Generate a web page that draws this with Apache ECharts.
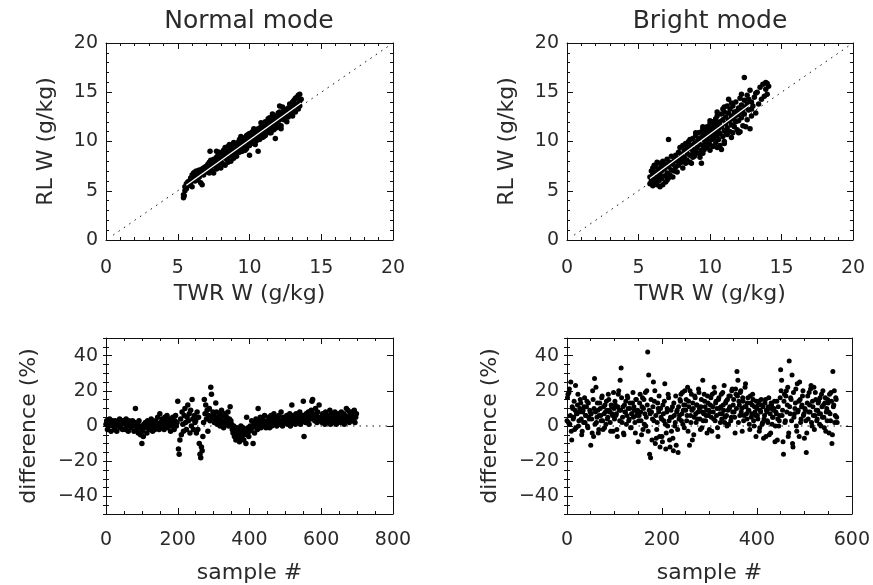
<!DOCTYPE html>
<html>
<head>
<meta charset="utf-8">
<script src="https://cdn.jsdelivr.net/npm/echarts@6/dist/echarts.min.js"></script>
<style>html,body{margin:0;padding:0;background:#fff}#c{width:873px;height:585px}</style>
</head>
<body>
<div id="c"></div>
<script>
// ---- tick labels ----
const scatterTicks = [0, 5, 10, 15, 20];
const diffTicks = [-40, -20, 0, 20, 40];
const sampleTicksNormal = [0, 200, 400, 600, 800];
const sampleTicksBright = [0, 200, 400, 600];
const panelTitles = ['Normal mode', 'Bright mode'];

// ---- reference lines ----
const oneToOne = [[0.5, 0.5], [20, 20]];
const normalFit = [[5.6, 5.55], [13.6, 13.9]];
const brightFit = [[5.8, 6.25], [12.8, 13.75]];
const normalZero = [[0, 0], [800, 0]];
const brightZero = [[0, 0], [600, 0]];

// ---- Normal mode: TWR W vs RL W (g/kg) ----
const normalScatter = [
[5.4,4.3],[5.4,4.6],[5.45,4.5],[5.5,5.0],[5.5,5.4],[5.6,5.7],[5.6,5.2],[5.7,5.9],[5.7,5.5],[5.8,6.0],[5.8,5.6],[5.9,6.3],[5.9,5.8],[6.0,6.1],[6.0,5.4],[6.0,6.6],
[6.1,6.8],[6.1,6.3],[6.2,6.9],[6.2,6.0],[6.3,6.5],[6.3,7.0],[6.4,6.1],[6.4,6.8],[6.5,7.1],[6.5,6.4],[6.6,5.8],[6.6,6.9],[6.7,5.6],[6.7,7.2],[6.8,6.6],[6.8,7.3],[6.9,7.0],[6.9,7.4],[7.0,6.9],[7.0,7.5],
[7.1,7.2],[7.1,7.7],[7.2,6.8],[7.2,7.9],[7.25,9.0],[7.3,7.4],[7.3,8.1],[7.4,7.0],[7.4,7.8],[7.5,6.8],[7.5,8.2],[7.6,7.5],[7.6,8.0],[7.7,9.0],[7.7,7.2],[7.7,8.4],[7.8,7.6],[7.8,8.6],[7.9,7.9],[7.9,8.3],[8.0,7.3],[8.0,8.7],[8.0,8.1],
[8.1,8.9],[8.1,7.8],[8.2,8.4],[8.2,9.1],[8.3,7.6],[8.3,8.7],[8.4,9.3],[8.4,8.2],[8.5,8.9],[8.5,7.9],[8.5,9.5],[8.6,8.5],[8.6,9.2],[8.7,8.0],[8.7,9.0],[8.8,9.6],[8.8,8.6],[8.9,9.3],[8.9,8.3],[9.0,9.8],[9.0,8.8],[9.0,9.4],
[9.1,9.1],[9.1,8.5],[9.2,9.9],[9.2,9.5],[9.3,8.9],[9.3,10.2],[9.4,9.3],[9.4,9.8],[9.5,9.0],[9.5,10.3],[9.5,9.6],[9.6,10.0],[9.6,9.2],[9.7,10.4],[9.7,9.7],[9.8,10.1],[9.8,9.3],[9.8,10.6],[9.9,9.9],[9.9,10.7],[10.0,9.6],[10.0,10.3],[10.0,8.6],[10.0,10.8],
[10.1,9.9],[10.1,10.6],[10.2,10.2],[10.2,11.0],[10.3,9.8],[10.3,10.7],[10.4,10.4],[10.4,11.2],[10.5,10.1],[10.5,10.9],[10.6,9.0],[10.6,11.3],[10.6,10.5],[10.7,11.0],[10.7,10.2],[10.8,11.5],[10.8,10.8],[10.9,10.4],[10.9,11.2],[11.0,11.7],[11.0,10.9],[11.0,10.5],
[11.1,11.4],[11.1,12.0],[11.2,11.0],[11.2,11.8],[11.3,11.3],[11.3,12.3],[11.4,11.6],[11.4,10.9],[11.5,12.1],[11.5,11.4],[11.6,12.5],[11.6,11.8],[11.7,11.2],[11.7,12.2],[11.8,11.7],[11.8,12.6],[11.8,10.3],[11.9,12.0],[11.9,11.4],[12.0,12.4],[12.0,12.9],[12.0,11.8],
[12.1,12.2],[12.1,13.0],[12.1,13.6],[12.2,11.6],[12.2,12.6],[12.3,12.9],[12.4,12.2],[12.4,13.3],[12.5,12.6],[12.6,12.0],[12.6,13.0],[12.7,13.4],[12.7,12.5],[12.8,13.1],[12.8,13.8],[12.9,12.8],[12.9,13.5],[13.0,13.2],[13.0,14.0],[13.0,12.6],
[13.1,13.6],[13.1,14.2],[13.2,13.0],[13.2,14.4],[13.3,13.8],[13.3,14.5],[13.4,13.3],[13.4,14.7],[13.5,14.1],[13.5,13.6],[13.5,14.8],[13.6,14.3],
[8.3,9.4],[8.9,9.9],[9.4,10.5],[9.9,10.3],[10.3,11.3],[10.8,11.9],[11.3,11.9],[11.6,12.8],[12.3,13.5],[9.2,8.9],[9.7,9.1],[10.4,9.7],[11.1,10.6],[11.5,10.9],[12.2,11.3],[7.9,8.9],[8.6,9.7],[9.3,9.6],[10.1,10.0],[10.7,10.8],[11.4,12.4],[12.5,13.1],[13.2,13.6]
];

// ---- Bright mode: TWR W vs RL W (g/kg) ----
const brightScatter = [
[5.8,5.7],[5.8,6.4],[5.9,7.0],[5.9,6.0],[6.0,7.3],[6.0,5.5],[6.0,6.7],[6.1,6.2],[6.1,7.6],[6.2,5.8],[6.2,6.9],[6.3,7.9],[6.3,6.4],[6.3,5.6],[6.4,7.2],[6.4,6.0],[6.5,5.4],[6.5,7.8],[6.5,6.6],
[6.6,7.0],[6.6,6.2],[6.7,5.6],[6.7,7.5],[6.7,8.0],[6.8,6.5],[6.8,7.2],[6.9,5.9],[6.9,7.7],[7.0,6.8],[7.0,8.2],[7.0,6.1],[7.1,7.4],[7.1,10.2],[7.2,6.6],[7.2,7.9],[7.3,7.1],[7.3,8.5],[7.4,6.4],[7.4,7.7],[7.5,8.1],[7.5,7.0],
[7.6,8.6],[7.6,7.4],[7.7,8.0],[7.7,6.9],[7.8,8.9],[7.8,7.6],[7.9,8.3],[7.9,9.4],[8.0,7.9],[8.0,8.7],[8.1,9.6],[8.1,7.3],[8.2,8.4],[8.2,9.1],[8.3,7.8],[8.3,9.8],[8.4,8.8],[8.4,8.1],[8.5,9.3],[8.5,10.0],
[8.6,8.6],[8.6,7.9],[8.7,9.6],[8.7,7.8],[8.8,9.0],[8.8,10.3],[8.9,8.5],[8.9,9.8],[9.0,9.2],[9.0,10.6],[9.0,8.8],[9.1,10.0],[9.1,9.4],[9.2,8.8],[9.2,10.9],[9.3,9.7],[9.3,10.3],[9.4,7.8],[9.4,9.1],[9.4,11.0],[9.5,10.5],[9.5,9.6],
[9.6,10.1],[9.6,11.3],[9.6,9.2],[9.7,10.7],[9.7,9.8],[9.8,11.5],[9.8,10.3],[9.8,9.4],[9.9,10.9],[9.9,10.0],[10.0,11.8],[10.0,9.7],[10.0,10.5],[10.1,11.2],[10.1,10.2],[10.2,9.5],[10.2,12.0],[10.2,10.8],[10.3,11.5],[10.3,10.4],[10.4,12.3],[10.4,9.9],[10.4,11.0],[10.5,10.6],[10.5,11.7],[10.5,12.6],
[10.6,10.2],[10.6,11.3],[10.7,12.0],[10.7,10.8],[10.8,9.2],[10.8,11.5],[10.8,12.8],[10.9,10.5],[10.9,12.2],[11.0,11.1],[11.0,13.0],[11.0,10.0],[11.1,11.8],[11.1,12.5],[11.2,10.7],[11.2,11.4],[11.3,12.9],[11.3,14.3],[11.3,12.1],[11.4,11.0],[11.4,13.3],[11.5,11.7],[11.5,12.6],
[11.6,10.9],[11.6,13.6],[11.6,12.3],[11.7,11.5],[11.7,13.0],[11.8,12.0],[11.8,14.0],[11.9,11.2],[11.9,12.7],[12.0,13.4],[12.0,12.1],[12.1,11.0],[12.1,14.4],[12.1,12.9],[12.2,13.7],[12.2,12.4],[12.3,11.6],[12.3,13.2],[12.4,16.5],[12.4,14.2],[12.4,12.8],[12.5,13.5],
[12.6,12.2],[12.6,14.7],[12.7,13.2],[12.8,15.2],[12.8,11.3],[12.9,14.0],[12.9,12.6],[13.0,13.6],[13.1,14.5],[13.2,12.9],[13.3,15.0],[13.4,13.8],[13.5,15.5],[13.6,14.3],[13.7,15.8],[13.8,14.6],[13.9,16.0],[13.9,15.3],[14.0,14.8],[14.0,15.9],[14.1,15.6],
[9.2,10.2],[9.7,11.0],[10.1,10.9],[10.6,11.9],[11.1,11.0],[11.4,12.2],[11.9,13.1],[10.3,11.9],[9.9,11.4],[9.4,10.4],[8.9,9.2],[8.4,9.5],[12.6,13.8],[12.2,14.8],[11.2,13.6],[10.9,13.3],[10.2,11.4],[9.5,11.5],
[6.2,7.4],[6.6,7.6],[7.1,6.3],[7.6,8.3],[8.1,8.2],[8.8,8.4],[9.3,8.4],[10.7,9.6],[11.7,12.5],[12.9,13.3],
[9.5,11.3],[10.0,12.1],[10.5,13.0],[11.0,13.5],[11.5,13.9],[9.5,8.8],[10.0,9.1],[10.5,9.4],[11.0,9.8],[11.5,10.4],[12.0,10.9],[12.5,11.5],[9.0,10.9],[8.6,10.2],[13.2,14.9],[12.7,14.3]
];

// ---- difference (%) per sample, every 2nd sample ----
const sampleStep = 2;
const normalDiff = [
1,3,-2,2,0,4,1,-3,2,3,0,1,-2,3,2,-3,1,0,2,4,-1,1,3,-2,2,
3,1,-2,4,2,0,-3,3,1,2,-1,0,3,1,-3,2,10,0,-2,1,-4,3,-1,-5,0,
-10,-3,-6,1,-1,2,0,-4,3,1,-2,2,-1,4,0,-3,1,2,-2,3,0,-1,5,1,-2,
7,2,-1,4,1,3,-2,5,0,2,6,-1,3,1,4,-3,2,0,5,1,-2,3,6,0,2,
14,-13,-16,-8,4,-5,8,1,-3,6,10,2,-2,5,12,3,7,-4,9,0,15,4,-2,6,2,
3,-4,8,-2,5,-10,-16,-18,-12,-14,-6,2,15,7,12,4,9,-3,6,10,3,22,18,5,8,
6,2,4,13,8,1,5,3,7,0,4,9,2,6,-1,3,7,1,5,2,8,0,4,11,3,
1,-2,-4,0,-6,-3,-8,-1,-5,-2,-7,-9,-4,0,-6,-3,-1,-8,-5,-2,-10,5,-4,-1,-6,
-3,0,-2,3,-1,-10,1,-4,2,4,0,-2,10,3,1,5,-1,2,4,0,3,6,1,-1,2,
3,1,5,-1,2,6,0,4,2,7,1,3,5,0,4,2,6,1,3,8,2,0,5,3,4,
4,2,6,1,5,3,7,0,4,12,2,6,3,5,1,7,4,2,6,3,8,1,5,3,6,
14,-6,4,2,7,5,3,8,1,6,4,9,14,15,7,5,3,10,6,2,8,4,12,5,3,
5,2,7,3,6,1,8,4,2,6,5,3,9,1,7,4,6,2,5,8,3,1,6,4,7,
3,6,2,8,5,4,7,1,6,3,10,5,9,4,2,7,5,8,3,6,4,9,2,5,7
];
// bright mode: even samples (0,2,4,...) and odd samples (1,3,5,...)
const brightDiff = [
3,18,19,1,25,-8,10,5,-2,23,7,12,0,8,15,4,-3,9,11,2,6,14,-1,5,9,
-11,4,20,-6,27,8,2,13,-4,6,10,3,17,-2,7,12,1,9,5,15,8,-3,11,6,19,
4,12,7,-6,18,9,26,33,2,11,-5,8,14,6,16,3,10,-1,7,13,5,9,-4,15,8,
-9,6,18,3,11,-2,15,7,0,20,42,29,-16,-18,8,4,25,14,-10,-7,2,10,17,-12,5,
-6,12,3,24,-13,8,0,16,-8,5,-3,11,-14,6,2,-11,9,-15,4,15,18,7,1,12,20,
9,3,22,14,-11,6,18,-8,10,5,16,2,12,8,19,4,11,-1,26,7,14,3,9,17,6,
-2,12,5,18,8,22,3,14,10,-6,16,7,11,4,19,9,2,13,6,15,1,10,17,5,21,
12,8,-4,18,31,26,14,6,20,10,16,3,11,24,7,13,9,1,17,5,12,15,0,8,-6,
10,4,14,-1,8,12,2,-7,6,15,9,3,11,-5,7,13,1,5,10,-9,8,14,4,0,6,
32,26,9,-16,18,3,20,12,-6,37,7,15,29,-12,5,10,21,-3,8,14,25,2,11,17,6,
-7,9,-15,13,4,19,8,23,0,11,22,6,15,3,9,14,1,7,18,5,12,-1,16,8,3,
13,-4,7,19,-10,31,12,2,16,5
];
const brightDiffOdd = [
16,2,21,6,-3,11,4,14,9,-1,7,18,3,10,13,-5,8,2,16,6,11,0,13,4,8,
7,-4,15,10,1,22,5,9,-2,13,6,16,3,11,-1,8,14,4,18,9,2,12,7,-3,10,
14,6,-2,11,20,3,9,16,5,-4,12,8,1,17,10,4,13,-1,7,19,11,2,15,6,9,
3,13,8,-5,16,10,1,19,5,12,-3,9,7,15,-8,11,3,20,6,-2,13,8,-6,10,4,
-9,7,14,1,-4,10,18,3,-12,9,5,-7,13,0,17,8,-2,11,6,14,3,19,9,-1,12,
15,6,-3,11,20,2,9,13,-5,17,7,12,4,21,10,-2,15,8,3,18,11,6,-4,13,9,
8,16,-3,11,4,19,13,6,-1,15,10,2,18,7,12,23,5,14,0,9,17,11,3,20,8,
15,5,21,10,17,2,12,19,8,-3,14,6,22,11,4,16,9,-2,13,7,18,3,11,6,14,
6,12,-3,9,15,1,11,4,13,-6,8,2,16,10,-4,12,5,9,14,0,7,-8,11,3,16,
20,6,-9,14,2,17,8,22,-4,11,16,3,-10,19,7,13,0,24,9,-6,15,4,12,20,7,
10,3,-4,17,8,12,21,2,14,6,-2,19,9,4,13,7,16,0,11,20,5,13,-3,10,15,
8,18,3,14,-5,11,20,6,15,2
];

// ---- chart ----
const FONT = 'DejaVu Sans';
const TXT = '#2a2a2a';
const fmtNum = v => (v < 0 ? '\u2212' + Math.abs(v) : String(v));

const grids = [
  {left: 106, top: 43, width: 287, height: 197},
  {left: 567, top: 43, width: 286, height: 197},
  {left: 106, top: 338, width: 287, height: 179},
  {left: 567, top: 338, width: 286, height: 180}
];

const xAxes = [], yAxes = [];
function baseAxis(extra) {
  return Object.assign({
    type: 'value',
    splitLine: {show: false},
    axisLine: {show: true, onZero: false, lineStyle: {color: '#111', width: 1}},
    axisTick: {show: true, inside: true, length: 6, lineStyle: {color: '#111', width: 1}},
    axisLabel: {show: false},
    nameTextStyle: {fontFamily: FONT, fontSize: 22, color: TXT}
  }, extra);
}
function addX(gi, min, max, interval, minorSplit, name, nameGap, labelMargin) {
  const idx = xAxes.length;
  const common = {gridIndex: gi, min: min, max: max, interval: interval,
    minorTick: {show: true, splitNumber: minorSplit, length: 3, lineStyle: {color: '#111'}}};
  xAxes.push(baseAxis(Object.assign({}, common, {
    position: 'bottom', name: name, nameLocation: 'middle', nameGap: nameGap,
    axisLabel: {show: true, fontFamily: FONT, fontSize: 19, color: TXT, margin: labelMargin, formatter: fmtNum, showMinLabel: true, showMaxLabel: true}
  })));
  xAxes.push(baseAxis(Object.assign({}, common, {position: 'top'})));
  return idx;
}
function addYScatter(gi, name) {
  const idx = yAxes.length;
  const common = {gridIndex: gi, min: 0, max: 20, interval: 5,
    minorTick: {show: true, splitNumber: 5, length: 3, lineStyle: {color: '#111'}}};
  yAxes.push(baseAxis(Object.assign({}, common, {
    position: 'left', name: name, nameLocation: 'middle', nameRotate: 90, nameGap: 49,
    axisLabel: {show: true, fontFamily: FONT, fontSize: 19, color: TXT, margin: 8, formatter: fmtNum, showMinLabel: true, showMaxLabel: true}
  })));
  yAxes.push(baseAxis(Object.assign({}, common, {position: 'right'})));
  return idx;
}
function addYDiff(gi, name) {
  const idx = yAxes.length;
  const common = {gridIndex: gi, min: -50, max: 50};
  yAxes.push(baseAxis(Object.assign({}, common, {
    position: 'left', name: name, nameLocation: 'middle', nameRotate: 90, nameGap: 66,
    axisTick: {show: true, inside: true, length: 6, customValues: diffTicks, lineStyle: {color: '#111'}},
    axisLabel: {show: true, fontFamily: FONT, fontSize: 19, color: TXT, margin: 8, customValues: diffTicks, formatter: fmtNum}
  })));
  yAxes.push(baseAxis(Object.assign({}, common, {
    position: 'right',
    axisTick: {show: true, inside: true, length: 6, customValues: diffTicks, lineStyle: {color: '#111'}}
  })));
  // minor ticks every 5 %
  yAxes.push(baseAxis(Object.assign({}, common, {
    position: 'left', interval: 5, axisLine: {show: false},
    axisTick: {show: true, inside: true, length: 3, lineStyle: {color: '#111'}}
  })));
  yAxes.push(baseAxis(Object.assign({}, common, {
    position: 'right', interval: 5, axisLine: {show: false},
    axisTick: {show: true, inside: true, length: 3, lineStyle: {color: '#111'}}
  })));
  return idx;
}

const x0 = addX(0, scatterTicks[0], scatterTicks[scatterTicks.length - 1], scatterTicks[1] - scatterTicks[0], 5, 'TWR W (g/kg)', 43, 19);
const x1 = addX(1, scatterTicks[0], scatterTicks[scatterTicks.length - 1], scatterTicks[1] - scatterTicks[0], 5, 'TWR W (g/kg)', 43, 19);
const x2 = addX(2, sampleTicksNormal[0], sampleTicksNormal[sampleTicksNormal.length - 1], sampleTicksNormal[1] - sampleTicksNormal[0], 4, 'sample #', 48, 17);
const x3 = addX(3, sampleTicksBright[0], sampleTicksBright[sampleTicksBright.length - 1], sampleTicksBright[1] - sampleTicksBright[0], 4, 'sample #', 48, 17);
const y0 = addYScatter(0, 'RL W (g/kg)');
const y1 = addYScatter(1, 'RL W (g/kg)');
const y2 = addYDiff(2, 'difference (%)');
const y3 = addYDiff(3, 'difference (%)');

const dotted = {color: '#111', width: 1, type: [1.5, 5]};
function lineSeries(xi, yi, data, style, z) {
  return {type: 'line', xAxisIndex: xi, yAxisIndex: yi, data: data, symbol: 'none',
    lineStyle: style, z: z, silent: true, animation: false};
}
function scatterSeries(xi, yi, data, size) {
  return {type: 'scatter', xAxisIndex: xi, yAxisIndex: yi, data: data, symbolSize: size,
    itemStyle: {color: '#000', opacity: 1, borderWidth: 0}, z: 2, silent: true, animation: false};
}
const normalDiffData = normalDiff.map((v, i) => [i * sampleStep, v]);
const brightDiffData = brightDiff.map((v, i) => [i * sampleStep, v])
  .concat(brightDiffOdd.map((v, i) => [i * sampleStep + 1, v]));

const option = {
  animation: false,
  backgroundColor: '#fff',
  grid: grids,
  xAxis: xAxes,
  yAxis: yAxes,
  graphic: [
    {type: 'text', x: 249, y: 9, style: {text: panelTitles[0], font: '25px "DejaVu Sans"', fill: TXT, textAlign: 'center', textVerticalAlign: 'top'}},
    {type: 'text', x: 710, y: 9, style: {text: panelTitles[1], font: '25px "DejaVu Sans"', fill: TXT, textAlign: 'center', textVerticalAlign: 'top'}}
  ],
  series: [
    lineSeries(x0, y0, oneToOne, dotted, 1),
    scatterSeries(x0, y0, normalScatter, 5.5),
    lineSeries(x0, y0, normalFit, {color: '#fff', width: 1.2}, 3),
    lineSeries(x1, y1, oneToOne, dotted, 1),
    scatterSeries(x1, y1, brightScatter, 5.5),
    lineSeries(x1, y1, brightFit, {color: '#fff', width: 1.2}, 3),
    lineSeries(x2, y2, normalZero, dotted, 1),
    scatterSeries(x2, y2, normalDiffData, 5.5),
    lineSeries(x3, y3, brightZero, dotted, 1),
    scatterSeries(x3, y3, brightDiffData, 5)
  ]
};
const chart = echarts.init(document.getElementById('c'), null, {renderer: 'canvas'});
chart.setOption(option);
</script>
</body>
</html>
